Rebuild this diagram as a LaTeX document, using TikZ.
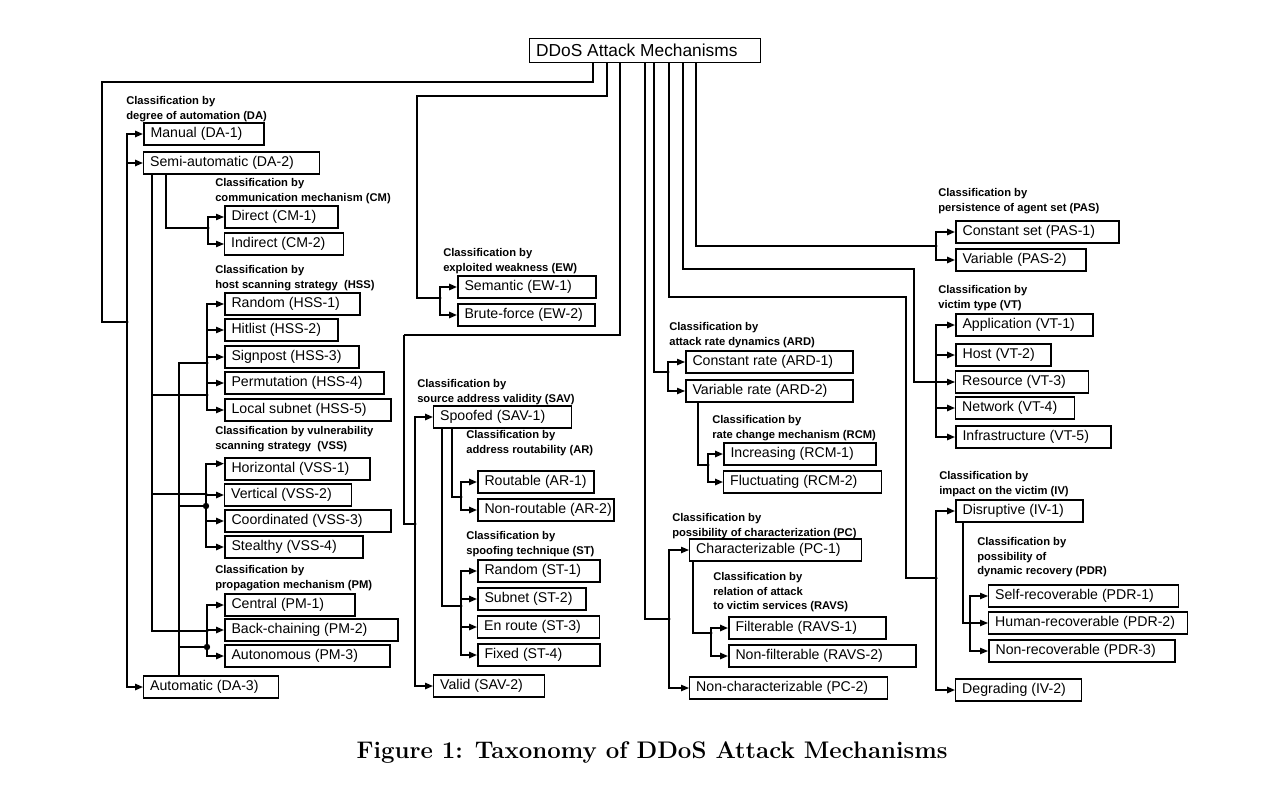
\documentclass[tikz,border=0pt]{standalone}
\usepackage{fontspec}
\newfontfamily\arialf{Liberation Sans}
\usetikzlibrary{arrows.meta}
\newdimen\px \px=0.75pt
\newcommand{\bxt}[2]{\makebox[\dimexpr#1\px-10pt\relax][l]{#2}}
\begin{document}
\begin{tikzpicture}[x=0.75pt,y=-0.75pt,
  box/.style={draw, anchor=west, inner xsep=5pt, inner ysep=0pt, minimum height=16.5pt, line width=0.8pt, font=\arialf\fontsize{10.6}{12}\selectfont},
  boxk/.style={box, line width=1.3pt},
  lab/.style={anchor=north west, inner sep=0pt, align=left, font=\arialf\bfseries\fontsize{8.4}{11}\selectfont},
  ln/.style={line width=0.8pt},
  lk/.style={line width=1.3pt},
  arr/.style={-{Triangle[length=6pt,width=4.8pt]}},
]
\useasboundingbox (0,0) rectangle (1288,788);

% ---------- root ----------
\node[box, line width=0.8pt, minimum height=18.5pt, font=\arialf\fontsize{13}{15}\selectfont] (root) at (529,50.5) {\bxt{231}{DDoS Attack Mechanisms}};

% ---------- labels ----------
\node[lab] (lDA) at (126,96) {Classification by\\degree of automation (DA)};
\node[lab] (lCM) at (215,178) {Classification by\\communication mechanism (CM)};
\node[lab] (lHSS) at (215,265) {Classification by\\host scanning strategy\ \ (HSS)};
\node[lab] (lVSS) at (215,426) {Classification by vulnerability\\scanning strategy\ \ (VSS)};
\node[lab] (lPM) at (215,565) {Classification by\\propagation mechanism (PM)};
\node[lab] (lEW) at (443,248) {Classification by\\exploited weakness (EW)};
\node[lab] (lSAV) at (417,379) {Classification by\\source address validity (SAV)};
\node[lab] (lAR) at (466,430) {Classification by\\address routability (AR)};
\node[lab] (lST) at (466,531) {Classification by\\spoofing technique (ST)};
\node[lab] (lARD) at (669,322) {Classification by\\attack rate dynamics (ARD)};
\node[lab] (lRCM) at (712,415) {Classification by\\rate change mechanism (RCM)};
\node[lab] (lPC) at (672,513) {Classification by\\possibility of characterization (PC)};
\node[lab] (lRAVS) at (713,572) {Classification by\\relation of attack\\to victim services (RAVS)};
\node[lab] (lPAS) at (938,188) {Classification by\\persistence of agent set (PAS)};
\node[lab] (lVT) at (938,285) {Classification by\\victim type (VT)};
\node[lab] (lIV) at (939,471) {Classification by\\impact on the victim (IV)};
\node[lab] (lPDR) at (977,537) {Classification by\\possibility of\\dynamic recovery (PDR)};

% ---------- boxes: left ----------
\node[boxk] (m1) at (143,134) {\bxt{120}{Manual (DA-1)}};
\node[box]  (m2) at (143,163) {\bxt{176}{Semi-automatic (DA-2)}};
\node[box]  (m3) at (143,687) {\bxt{135}{Automatic (DA-3)}};
\node[boxk] (cm1) at (224,217) {\bxt{113}{Direct (CM-1)}};
\node[box]  (cm2) at (224,244) {\bxt{119}{Indirect (CM-2)}};
\node[boxk] (h1) at (224,304) {\bxt{135}{Random (HSS-1)}};
\node[boxk] (h2) at (224,330) {\bxt{113}{Hitlist (HSS-2)}};
\node[boxk] (h3) at (224,357) {\bxt{134}{Signpost (HSS-3)}};
\node[boxk] (h4) at (224,383) {\bxt{159}{Permutation (HSS-4)}};
\node[boxk] (h5) at (224,410) {\bxt{166}{Local subnet (HSS-5)}};
\node[boxk] (v1) at (224,469) {\bxt{145}{Horizontal (VSS-1)}};
\node[box]  (v2) at (224,495) {\bxt{127}{Vertical (VSS-2)}};
\node[boxk] (v3) at (224,521) {\bxt{166}{Coordinated (VSS-3)}};
\node[boxk] (v4) at (224,547) {\bxt{138}{Stealthy (VSS-4)}};
\node[boxk] (p1) at (224,605) {\bxt{130}{Central (PM-1)}};
\node[boxk] (p2) at (224,630) {\bxt{173}{Back-chaining (PM-2)}};
\node[boxk] (p3) at (224,656) {\bxt{165}{Autonomous (PM-3)}};

% ---------- boxes: middle ----------
\node[boxk] (e1) at (457,287) {\bxt{138}{Semantic (EW-1)}};
\node[boxk] (e2) at (457,315) {\bxt{137}{Brute-force (EW-2)}};
\node[box]  (s1) at (433,417) {\bxt{138}{Spoofed (SAV-1)}};
\node[box]  (s2) at (433,686) {\bxt{111}{Valid (SAV-2)}};
\node[boxk] (a1) at (477,482) {\bxt{116}{Routable (AR-1)}};
\node[boxk] (a2) at (477,510) {\bxt{136}{Non-routable (AR-2)}};
\node[boxk] (t1) at (477,571) {\bxt{122}{Random (ST-1)}};
\node[boxk] (t2) at (477,599) {\bxt{108}{Subnet (ST-2)}};
\node[box]  (t3) at (477,627) {\bxt{122}{En route (ST-3)}};
\node[boxk] (t4) at (477,655) {\bxt{122}{Fixed (ST-4)}};
\node[boxk] (r1) at (685,362) {\bxt{167}{Constant rate (ARD-1)}};
\node[boxk] (r2) at (685,391) {\bxt{167}{Variable rate (ARD-2)}};
\node[boxk] (c1) at (723,454) {\bxt{152}{Increasing (RCM-1)}};
\node[box]  (c2) at (723,482) {\bxt{158}{Fluctuating (RCM-2)}};
\node[box]  (pc1) at (689,550) {\bxt{172}{Characterizable (PC-1)}};
\node[box]  (pc2) at (689,688) {\bxt{198}{Non-characterizable (PC-2)}};
\node[boxk] (f1) at (728,628) {\bxt{157}{Filterable (RAVS-1)}};
\node[boxk] (f2) at (728,656) {\bxt{187}{Non-filterable (RAVS-2)}};

% ---------- boxes: right ----------
\node[boxk] (pa1) at (955,232) {\bxt{163}{Constant set (PAS-1)}};
\node[boxk] (pa2) at (955,260) {\bxt{130}{Variable (PAS-2)}};
\node[boxk] (vt1) at (955,325) {\bxt{137}{Application (VT-1)}};
\node[boxk] (vt2) at (955,355) {\bxt{95}{Host (VT-2)}};
\node[box]  (vt3) at (955,382) {\bxt{133}{Resource (VT-3)}};
\node[box]  (vt4) at (955,408) {\bxt{119}{Network (VT-4)}};
\node[boxk] (vt5) at (955,437) {\bxt{155}{Infrastructure (VT-5)}};
\node[boxk] (iv1) at (955,511) {\bxt{127}{Disruptive (IV-1)}};
\node[box]  (iv2) at (955,690) {\bxt{126}{Degrading (IV-2)}};
\node[box]  (d1) at (988,596) {\bxt{190}{Self-recoverable (PDR-1)}};
\node[box]  (d2) at (988,623) {\bxt{199}{Human-recoverable (PDR-2)}};
\node[boxk] (d3) at (988,651) {\bxt{186}{Non-recoverable (PDR-3)}};

% ---------- caption ----------
\node[anchor=base, inner sep=0pt, font=\bfseries\fontsize{18}{21}\selectfont] (cap) at (652,758) {Figure 1: Taxonomy of DDoS Attack Mechanisms};

% ---------- coordinates ----------
\coordinate (rDA) at (593,0);
\coordinate (rEW) at (607,0);
\coordinate (rSAV) at (620,0);
\coordinate (rPC) at (645,0);
\coordinate (rARD) at (654,0);
\coordinate (rIV) at (669,0);
\coordinate (rVT) at (683,0);
\coordinate (rPAS) at (696,0);
\coordinate (xs1) at (152,0);
\coordinate (xs2) at (166,0);
\coordinate (xa) at (179,0);
\coordinate (xsp1) at (442,0);
\coordinate (xsp2) at (452,0);
\coordinate (xpc) at (693,0);
\coordinate (xvr) at (698,0);
\coordinate (xdr) at (963,0);
\coordinate (jDA) at (127,322);
\coordinate (jCM) at (208,228);
\coordinate (jHA) at (207,363);
\coordinate (jHS) at (207,395);
\coordinate (jVS) at (206,494);
\coordinate (jVA) at (206,506);
\coordinate (jPS) at (207,631);
\coordinate (jPA) at (207,647);
\coordinate (jEW) at (440,298);
\coordinate (jSAV) at (415,524);
\coordinate (jAR) at (461,497);
\coordinate (jST) at (461,606);
\coordinate (jPC) at (669,619);
\coordinate (jRV) at (711,633);
\coordinate (jARD) at (668,372);
\coordinate (jRC) at (708,465);
\coordinate (jIV) at (936,578);
\coordinate (jPD) at (970,623);
\coordinate (jVT) at (936,382);
\coordinate (jPAS) at (936,246);

% ---------- DA ----------
\draw[lk] (root.south -| rDA) |- (102,82) |- (jDA);
\foreach \t in {m1,m2,m3} \draw[lk,arr] (jDA) |- (\t.west);
\draw[ln] (m2.south -| xs2) |- (jCM);
\draw[ln] (m2.south -| xs1) |- (jPS);
\draw[ln] (xs1 |- jHS) -- (jHS);
\draw[ln] (xs1 |- jVS) -- (jVS);
\draw[ln] (m3.north -| xa) |- (jHA);
\draw[ln] (xa |- jVA) -- (jVA);
\draw[lk] (xa |- jPA) -- (jPA);
\foreach \t in {cm1,cm2} \draw[ln,arr] (jCM) |- (\t.west);
\foreach \t in {h1,h2,h3,h4,h5} \draw[ln,arr] (jHS) |- (\t.west);
\draw[lk,arr] (jVS) |- ([yshift=4pt]v1.west);
\foreach \t in {v2,v3,v4} \draw[lk,arr] (jVS) |- (\t.west);
\foreach \t in {p1,p2,p3} \draw[lk,arr] (jPS) |- (\t.west);

% ---------- EW ----------
\draw[lk] (root.south -| rEW) |- (417,96) |- (jEW);
\foreach \t in {e1,e2} \draw[lk,arr] (jEW) |- (\t.west);

% ---------- SAV ----------
\draw[ln] (root.south -| rSAV) |- (404,335);
\draw[lk] (404,335) |- (jSAV);
\foreach \t in {s1,s2} \draw[lk,arr] (jSAV) |- (\t.west);
\draw[ln] (s1.south -| xsp2) |- (jAR);
\draw[ln] (s1.south -| xsp1) |- (jST);
\foreach \t in {a1,a2} \draw[lk,arr] (jAR) |- (\t.west);
\foreach \t in {t1,t2,t3,t4} \draw[lk,arr] (jST) |- (\t.west);

% ---------- PC ----------
\draw[lk] (root.south -| rPC) |- (jPC);
\foreach \t in {pc1,pc2} \draw[ln,arr] (jPC) |- (\t.west);
\draw[lk] (pc1.south -| xpc) |- (jRV);
\foreach \t in {f1,f2} \draw[lk,arr] (jRV) |- (\t.west);

% ---------- ARD ----------
\draw[ln] (root.south -| rARD) |- (jARD);
\foreach \t in {r1,r2} \draw[ln,arr] (jARD) |- (\t.west);
\draw[lk] (r2.south -| xvr) |- (jRC);
\foreach \t in {c1,c2} \draw[lk,arr] (jRC) |- (\t.west);

% ---------- IV ----------
\draw[ln] (root.south -| rIV) |- (906,297) |- (jIV);
\foreach \t in {iv1,iv2} \draw[lk,arr] (jIV) |- (\t.west);
\draw[ln,arr] (iv1.south -| xdr) |- (d2.west);
\foreach \t in {d1,d3} \draw[ln,arr] (jPD) |- (\t.west);

% ---------- VT ----------
\draw[ln,arr] (root.south -| rVT) |- (914,269) |- (vt3.west);
\foreach \t in {vt1,vt2,vt4,vt5} \draw[lk,arr] (jVT) |- (\t.west);

% ---------- PAS ----------
\draw[lk] (root.south -| rPAS) |- (jPAS);
\foreach \t in {pa1,pa2} \draw[lk,arr] (jPAS) |- (\t.west);

% ---------- junction dots ----------
\foreach \j in {jDA,jCM,jHA,jHS,jVS,jPS,jEW,jSAV,jAR,jST,jPC,jRV,jARD,jRC,jIV,jPAS}
  \fill (\j) circle (1.3pt);
\foreach \j in {jVA,jPA} \fill (\j) circle (2.4pt);
\end{tikzpicture}
\end{document}
